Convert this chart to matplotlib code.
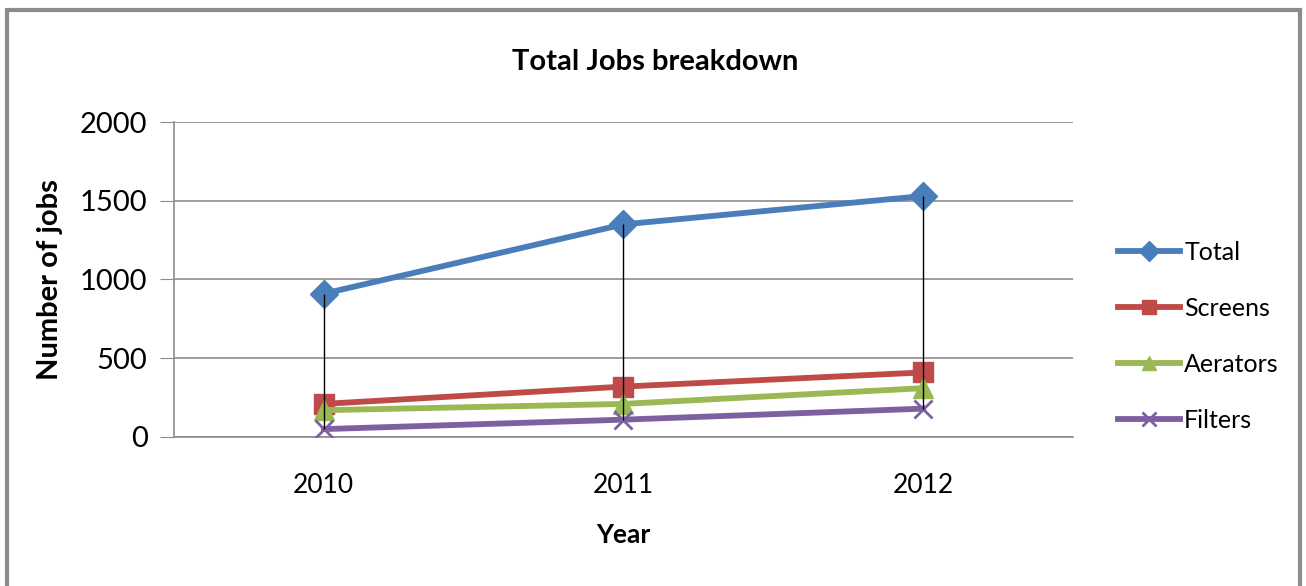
import numpy as np
import matplotlib.pyplot as plt
from matplotlib.patches import Rectangle

plt.rcParams['font.family'] = ['Lato', 'DejaVu Sans']

years = ['2010', '2011', '2012']
total = [910, 1350, 1530]
screens = [210, 320, 410]
aerators = [170, 210, 310]
filters_ = [50, 110, 180]

fig = plt.figure(figsize=(13.06, 5.86), dpi=100)
ax = fig.add_axes([0.1332, 0.2543, 0.6884, 0.5375])

x = np.arange(len(years))

ax.plot(x, total, color='#4A7EBB', lw=4.2, marker='D', ms=14, label='Total', zorder=3)
ax.plot(x, screens, color='#BE4B48', lw=4.2, marker='s', ms=14, label='Screens', zorder=3)
ax.plot(x, aerators, color='#98B954', lw=4.2, marker='^', ms=14, label='Aerators', zorder=3)
ax.plot(x, filters_, color='#7D60A0', lw=4.2, marker='x', ms=13, mew=2, label='Filters', zorder=3)

# high-low lines
allv = np.array([total, screens, aerators, filters_])
ax.vlines(x, allv.min(axis=0), allv.max(axis=0), color='black', lw=1, zorder=4)

ax.set_xlim(-0.5, 2.5)
ax.set_ylim(0, 2000)
ax.set_yticks([0, 500, 1000, 1500, 2000])
ax.set_xticks(x)
ax.set_xticklabels(years)
ax.yaxis.grid(True, color='#8C8C8C', lw=1.2)
ax.set_axisbelow(True)
for s in ['top', 'right']:
    ax.spines[s].set_visible(False)
ax.spines['left'].set_color('#8C8C8C')
ax.spines['bottom'].set_color('#8C8C8C')
ax.spines['left'].set_linewidth(1.2)
ax.spines['bottom'].set_linewidth(1.2)
ax.tick_params(axis='y', length=10, color='#8C8C8C', labelsize=21, pad=9)
ax.tick_params(axis='x', length=0, labelsize=19, pad=26)

ax.set_ylabel('Number of jobs', fontsize=21, fontweight='bold', labelpad=12)
ax.set_xlabel('Year', fontsize=19, fontweight='bold', labelpad=18)
fig.text(0.5015, 0.895, 'Total Jobs breakdown', ha='center', va='center',
         fontsize=21, fontweight='bold')

ax.legend(loc='center left', bbox_to_anchor=(1.025, 0.32), frameon=False,
          fontsize=18, labelspacing=1.32, handlelength=2.5, handletextpad=0.15,
          markerscale=0.75)

# outer chart border
fig.patches.append(Rectangle((7 / 1306, -0.05), 1293 / 1306, 1.05 - 10 / 586,
                             transform=fig.transFigure, fill=False,
                             edgecolor='#8C8C8C', lw=3))

fig.savefig('out.png', dpi=100)
